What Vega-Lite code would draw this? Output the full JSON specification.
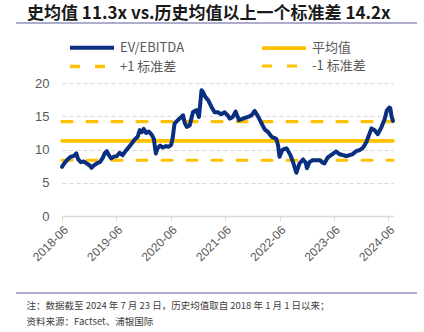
{
  "$schema": "https://vega.github.io/schema/vega-lite/v6.json",
  "width": 331,
  "height": 133,
  "autosize": {"type": "none"},
  "padding": {"left": 62, "top": 83, "right": 31, "bottom": 116},
  "background": "white",
  "title": {
    "text": "史均值 11.3x vs.历史均值以上一个标准差 14.2x",
    "anchor": "start",
    "frame": "group",
    "orient": "top",
    "baseline": "alphabetic",
    "offset": -14,
    "dx": -35,
    "fontSize": 17,
    "fontWeight": "bold",
    "font": "Noto Sans CJK SC",
    "color": "#1a1a1a"
  },
  "datasets": {
    "ev": [
      {"date": "2018-06-01", "v": 7.4}, {"date": "2018-06-19", "v": 8.0}, {"date": "2018-07-09", "v": 8.5},
      {"date": "2018-07-29", "v": 8.9}, {"date": "2018-08-17", "v": 9.0}, {"date": "2018-09-05", "v": 9.4},
      {"date": "2018-09-18", "v": 8.5}, {"date": "2018-10-05", "v": 8.1}, {"date": "2018-10-25", "v": 8.2},
      {"date": "2018-11-14", "v": 7.9}, {"date": "2018-12-04", "v": 7.6}, {"date": "2018-12-16", "v": 7.25},
      {"date": "2019-01-01", "v": 7.6}, {"date": "2019-01-20", "v": 7.9}, {"date": "2019-02-10", "v": 8.1},
      {"date": "2019-03-01", "v": 8.7}, {"date": "2019-03-14", "v": 9.4}, {"date": "2019-03-29", "v": 9.75},
      {"date": "2019-04-10", "v": 9.2}, {"date": "2019-04-27", "v": 8.65}, {"date": "2019-05-13", "v": 8.9},
      {"date": "2019-06-03", "v": 9.0}, {"date": "2019-06-23", "v": 9.5}, {"date": "2019-07-13", "v": 9.15},
      {"date": "2019-08-03", "v": 9.8}, {"date": "2019-08-22", "v": 10.3}, {"date": "2019-09-12", "v": 10.9},
      {"date": "2019-10-02", "v": 11.5}, {"date": "2019-10-22", "v": 11.9}, {"date": "2019-11-05", "v": 12.9},
      {"date": "2019-11-18", "v": 12.6}, {"date": "2019-12-02", "v": 13.1}, {"date": "2019-12-18", "v": 12.5},
      {"date": "2020-01-05", "v": 12.7}, {"date": "2020-01-25", "v": 12.2}, {"date": "2020-02-08", "v": 11.6},
      {"date": "2020-02-21", "v": 9.4}, {"date": "2020-03-04", "v": 10.2}, {"date": "2020-03-21", "v": 10.6},
      {"date": "2020-04-07", "v": 10.3}, {"date": "2020-04-28", "v": 10.5}, {"date": "2020-05-16", "v": 10.4},
      {"date": "2020-06-03", "v": 10.7}, {"date": "2020-06-13", "v": 11.7}, {"date": "2020-06-26", "v": 13.9},
      {"date": "2020-07-13", "v": 14.3}, {"date": "2020-07-30", "v": 14.65}, {"date": "2020-08-22", "v": 15.15},
      {"date": "2020-09-02", "v": 14.0}, {"date": "2020-09-16", "v": 13.4}, {"date": "2020-10-06", "v": 13.65},
      {"date": "2020-10-28", "v": 15.65}, {"date": "2020-11-20", "v": 15.9}, {"date": "2020-12-07", "v": 14.9},
      {"date": "2020-12-24", "v": 18.9}, {"date": "2021-01-04", "v": 18.6}, {"date": "2021-01-19", "v": 17.9},
      {"date": "2021-02-07", "v": 17.4}, {"date": "2021-03-01", "v": 16.4}, {"date": "2021-03-22", "v": 15.6},
      {"date": "2021-04-13", "v": 15.6}, {"date": "2021-05-06", "v": 15.3}, {"date": "2021-05-28", "v": 15.6},
      {"date": "2021-06-19", "v": 15.1}, {"date": "2021-07-01", "v": 14.65}, {"date": "2021-07-22", "v": 14.9},
      {"date": "2021-08-10", "v": 15.7}, {"date": "2021-09-02", "v": 14.4}, {"date": "2021-09-28", "v": 14.65},
      {"date": "2021-11-01", "v": 14.9}, {"date": "2021-11-25", "v": 15.15}, {"date": "2021-12-16", "v": 15.8},
      {"date": "2022-01-07", "v": 15.0}, {"date": "2022-02-01", "v": 13.9}, {"date": "2022-02-22", "v": 13.0},
      {"date": "2022-03-15", "v": 12.65}, {"date": "2022-04-09", "v": 11.9}, {"date": "2022-05-10", "v": 11.6},
      {"date": "2022-05-22", "v": 10.65}, {"date": "2022-06-01", "v": 8.9}, {"date": "2022-06-19", "v": 9.9},
      {"date": "2022-07-04", "v": 10.1}, {"date": "2022-07-19", "v": 10.15}, {"date": "2022-08-13", "v": 9.15},
      {"date": "2022-08-30", "v": 8.15}, {"date": "2022-09-22", "v": 6.5}, {"date": "2022-10-13", "v": 7.9},
      {"date": "2022-11-06", "v": 8.5}, {"date": "2022-11-24", "v": 8.0}, {"date": "2022-12-02", "v": 7.2},
      {"date": "2022-12-19", "v": 8.1}, {"date": "2023-01-09", "v": 8.4}, {"date": "2023-02-04", "v": 8.4},
      {"date": "2023-02-26", "v": 8.4}, {"date": "2023-03-18", "v": 8.0}, {"date": "2023-03-29", "v": 7.9},
      {"date": "2023-04-21", "v": 8.8}, {"date": "2023-05-13", "v": 9.15}, {"date": "2023-06-16", "v": 9.7},
      {"date": "2023-07-09", "v": 9.3}, {"date": "2023-08-01", "v": 9.15}, {"date": "2023-08-22", "v": 9.0},
      {"date": "2023-09-15", "v": 9.15}, {"date": "2023-10-05", "v": 9.3}, {"date": "2023-10-29", "v": 9.75},
      {"date": "2023-11-21", "v": 9.9}, {"date": "2023-12-13", "v": 10.25}, {"date": "2024-01-05", "v": 11.1},
      {"date": "2024-01-20", "v": 12.0}, {"date": "2024-02-08", "v": 13.15}, {"date": "2024-03-01", "v": 12.9},
      {"date": "2024-03-22", "v": 12.3}, {"date": "2024-04-14", "v": 13.3}, {"date": "2024-05-06", "v": 14.5},
      {"date": "2024-05-22", "v": 15.9}, {"date": "2024-06-07", "v": 16.3}, {"date": "2024-06-14", "v": 16.2},
      {"date": "2024-06-22", "v": 15.0}, {"date": "2024-07-02", "v": 14.3}
    ],
    "refs": [
      {"series": "平均值", "date": "2018-06-01", "v": 11.3},
      {"series": "平均值", "date": "2024-07-02", "v": 11.3},
      {"series": "+1 标准差", "date": "2018-06-01", "v": 14.2},
      {"series": "+1 标准差", "date": "2024-07-02", "v": 14.2},
      {"series": "-1 标准差", "date": "2018-06-01", "v": 8.4},
      {"series": "-1 标准差", "date": "2024-07-02", "v": 8.4}
    ],
    "sepTop": [{"line": "header"}],
    "sepBottom": [{"line": "footer"}]
  },
  "layer": [
    {
      "data": {"name": "sepTop"},
      "mark": {"type": "rule", "color": "#5b5b9b", "strokeWidth": 1.2, "clip": false},
      "encoding": {
        "x": {"value": -46},
        "x2": {"value": 355},
        "y": {"value": -60}
      }
    },
    {
      "data": {"name": "sepBottom"},
      "mark": {"type": "rule", "color": "#5b5b9b", "strokeWidth": 1.2, "clip": false},
      "encoding": {
        "x": {"value": -46},
        "x2": {"value": 355},
        "y": {"value": 210}
      }
    },
    {
      "data": {"name": "refs"},
      "mark": {"type": "line", "strokeCap": "round", "clip": false},
      "encoding": {
        "x": {
          "field": "date", "type": "temporal",
          "scale": {"domain": ["2018-06-01", "2024-07-02"]},
          "axis": {
            "values": ["2018-06-01", "2019-06-01", "2020-06-01", "2021-06-01", "2022-06-01", "2023-06-01", "2024-06-01"],
            "format": "%Y-%m",
            "labelAngle": -45,
            "labelFontSize": 12,
            "labelColor": "#595959",
            "labelFont": "Liberation Sans",
            "labelPadding": 3,
            "domainColor": "#d9d9d9",
            "domainWidth": 1.5,
            "tickColor": "#d9d9d9",
            "tickSize": 5,
            "grid": false,
            "title": ["注：数据截至 2024 年 7 月 23 日，历史均值取自 2018 年 1 月 1 日以来；", "资料来源：Factset、浦银国际"],
            "titleAnchor": "start",
            "titleAlign": "left",
            "titleBaseline": "top",
            "titleX": -36,
            "titleY": 84,
            "titleFontSize": 9.5,
            "titleFontWeight": "normal",
            "titleFont": "Noto Sans CJK SC",
            "titleColor": "#404040",
            "titleLineHeight": 16
          }
        },
        "y": {
          "field": "v", "type": "quantitative",
          "scale": {"domain": [0, 20], "nice": false},
          "axis": {
            "values": [0, 5, 10, 15, 20],
            "tickCount": 5,
            "title": null,
            "domain": false,
            "ticks": false,
            "labelOverlap": false,
            "labelFontSize": 13,
            "labelColor": "#595959",
            "labelFont": "Liberation Sans",
            "labelPadding": 13,
            "gridColor": "#d9d9d9",
            "gridDash": [4, 3],
            "gridWidth": 1
          }
        },
        "color": {
          "field": "series", "type": "nominal",
          "scale": {"domain": ["EV/EBITDA", "平均值", "+1 标准差", "-1 标准差"], "range": ["#0a2f80", "#ffc000", "#ffc000", "#ffc000"]},
          "legend": {
            "orient": "none",
            "legendX": 6,
            "legendY": -43,
            "title": null,
            "columns": 2,
            "direction": "horizontal",
            "symbolType": "M-1,0H7",
            "symbolSize": 121,
            "symbolStrokeWidth": 4,
            "labelOffset": 37,
            "labelFontSize": 13,
            "labelColor": "#595959",
            "labelFont": "Noto Sans CJK SC",
            "columnPadding": 69,
            "rowPadding": 3
          }
        },
        "strokeDash": {
          "field": "series", "type": "nominal",
          "scale": {"domain": ["EV/EBITDA", "平均值", "+1 标准差", "-1 标准差"], "range": [[1, 0], [1, 0], [10, 15], [10, 15]]}
        },
        "strokeWidth": {"field": "series", "type": "nominal",
          "scale": {"domain": ["EV/EBITDA", "平均值", "+1 标准差", "-1 标准差"], "range": [4, 3, 4, 4]},
          "legend": null}
      }
    },
    {
      "data": {"name": "ev"},
      "transform": [{"calculate": "'EV/EBITDA'", "as": "series"}],
      "mark": {"type": "line", "strokeWidth": 4, "strokeJoin": "round", "strokeCap": "round"},
      "encoding": {
        "x": {"field": "date", "type": "temporal"},
        "y": {"field": "v", "type": "quantitative"},
        "color": {"field": "series", "type": "nominal"},
        "strokeDash": {"field": "series", "type": "nominal"}
      }
    }
  ],
  "config": {
    "view": {"stroke": null},
    "axis": {"labelFont": "Liberation Sans"},
    "axisY": {"tickCount": 5, "values": [0, 5, 10, 15, 20]}
  }
}
